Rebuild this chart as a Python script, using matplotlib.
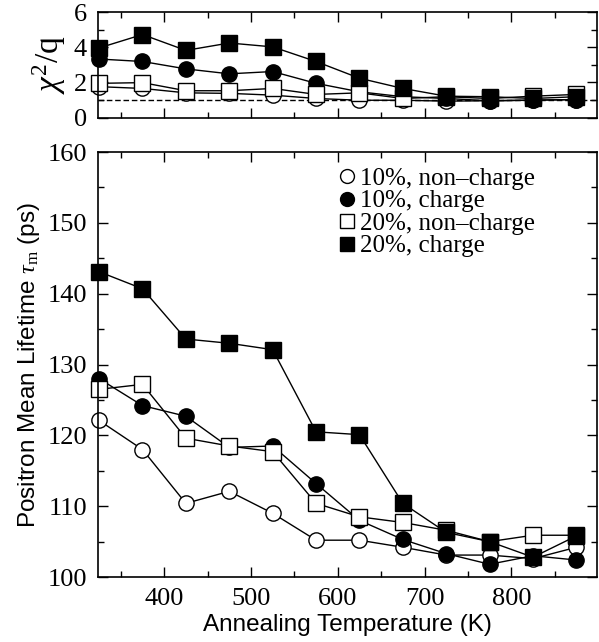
import matplotlib
matplotlib.use("Agg")
import matplotlib.pyplot as plt
from matplotlib.ticker import MultipleLocator, FixedLocator

# annealing temperatures (K)
temps = [325, 375, 425, 475, 525, 575, 625, 675, 725, 775, 825, 875]

# mean lifetime (ps)
tau_10_nc = [122.1, 118.0, 110.4, 112.1, 109.0, 105.2, 105.2, 104.2, 103.1, 103.1, 102.6, 104.2]
tau_10_c = [128.0, 124.2, 122.7, 118.3, 118.5, 113.2, 108.0, 105.3, 103.3, 101.8, 103.0, 102.4]
tau_20_nc = [126.5, 127.2, 119.6, 118.5, 117.7, 110.4, 108.5, 107.7, 106.6, 105.0, 105.9, 105.9]
tau_20_c = [143.1, 140.7, 133.6, 133.0, 132.1, 120.5, 120.1, 110.4, 106.3, 105.0, 102.8, 105.8]

# chi^2/q of the fits
chi_10_nc = [1.76, 1.66, 1.41, 1.38, 1.28, 1.09, 0.99, 0.99, 0.94, 0.96, 0.99, 1.03]
chi_10_c = [3.33, 3.19, 2.77, 2.49, 2.62, 1.95, 1.47, 1.19, 1.09, 0.96, 1.00, 1.03]
chi_20_nc = [1.95, 1.99, 1.53, 1.53, 1.66, 1.32, 1.41, 1.09, 1.19, 1.09, 1.22, 1.32]
chi_20_c = [3.96, 4.72, 3.82, 4.24, 4.02, 3.19, 2.24, 1.66, 1.22, 1.19, 1.09, 1.19]

labels = ['10%, non\u2013charge', '10%, charge', '20%, non\u2013charge', '20%, charge']
x_major = [400, 500, 600, 700, 800]
SERIF = 'Liberation Serif'
SANS = 'Liberation Sans'

plt.rcParams['font.family'] = SERIF
plt.rcParams['mathtext.fontset'] = 'custom'
plt.rcParams['mathtext.rm'] = SERIF
plt.rcParams['mathtext.it'] = SERIF + ':italic'

fig = plt.figure(figsize=(5.99, 6.42), dpi=100)
ax_top = fig.add_axes([0.164, 0.8167, 0.833, 0.1646])
ax = fig.add_axes([0.164, 0.1012, 0.833, 0.662])

styles = [
    dict(marker='o', mfc='white', ms=11),
    dict(marker='o', mfc='black', ms=11),
    dict(marker='s', mfc='white', ms=12),
    dict(marker='s', mfc='black', ms=12),
]

chis = [chi_10_nc, chi_10_c, chi_20_nc, chi_20_c]
taus = [tau_10_nc, tau_10_c, tau_20_nc, tau_20_c]

for vals, st in zip(chis, styles):
    ax_top.plot(temps, vals, color='black', lw=1, mec='black', mew=1, clip_on=False, **st)
ax_top.axhline(1, color='black', lw=1, ls=(0, (4, 2)), zorder=0)

for vals, st, lab in zip(taus, styles, labels):
    ax.plot(temps, vals, color='black', lw=1, mec='black', mew=1, clip_on=False, label=lab, **st)

for a in (ax_top, ax):
    a.set_xlim(324, 899)
    a.xaxis.set_major_locator(FixedLocator(x_major))
    a.xaxis.set_minor_locator(MultipleLocator(50))
    a.tick_params(which='both', direction='in', top=True, right=True, labelsize=19)
    a.tick_params(which='major', length=7, width=1, pad=8)
    a.tick_params(which='minor', length=4, width=1)
    for s in a.spines.values():
        s.set_linewidth(1.2)
    for t in a.get_xticklabels() + a.get_yticklabels():
        t.set_fontfamily(SERIF)

ax_top.set_ylim(0, 6)
ax_top.yaxis.set_major_locator(MultipleLocator(2))
ax_top.yaxis.set_minor_locator(MultipleLocator(1))
ax_top.tick_params(labelbottom=False)
ax_top.set_ylabel(r'$\chi^2$/q', fontsize=24, family=SERIF, labelpad=4)

ax.set_ylim(100, 160)
ax.yaxis.set_major_locator(MultipleLocator(10))
ax.yaxis.set_minor_locator(MultipleLocator(5))
ax.set_xlabel('Annealing Temperature (K)', fontsize=17.5, family=SANS, labelpad=3)
ax.set_ylabel(r'Positron Mean Lifetime $\tau_{\rm m}$ (ps)', fontsize=17.5, family=SANS, labelpad=4)

leg = ax.legend(loc='upper right', frameon=False, prop={'family': SERIF, 'size': 18},
                handlelength=0.6, handletextpad=0.2, labelspacing=0,
                borderaxespad=0.3, bbox_to_anchor=(0.91, 1.005))
for h in leg.legend_handles:
    h.set_linestyle('none')
    h.set_markersize(10)

fig.savefig('out.png', dpi=100)
